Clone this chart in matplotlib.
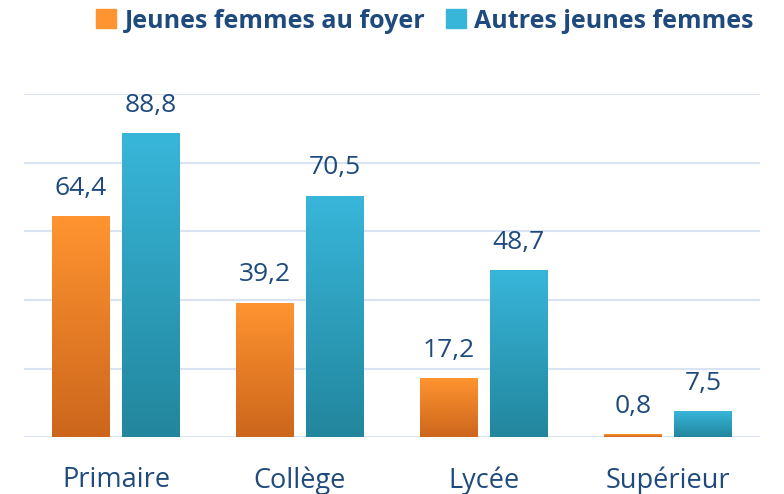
import numpy as np
import matplotlib
matplotlib.use("Agg")
import matplotlib.pyplot as plt
import matplotlib.patches as mpatches
from matplotlib.colors import LinearSegmentedColormap

# ── data ─────────────────────────────────────
categories = ["Primaire", "Collège", "Lycée", "Supérieur"]
foyer      = [64.4, 39.2, 17.2, 0.8]
autres     = [88.8, 70.5, 48.7, 7.5]
series     = ["Jeunes femmes au foyer", "Autres jeunes femmes"]

TEXT   = "#1F4A7E"
GRID   = "#D9E3F1"
ORANGE = ("#FF9430", "#CC661C")   # top, bottom
TEAL   = ("#38B6DA", "#22869D")

plt.rcParams["font.family"] = ["Open Sans", "DejaVu Sans"]

fig = plt.figure(figsize=(7.84, 4.94), dpi=100)
ax = fig.add_axes([24 / 784, 57 / 494, 736 / 784, 342.5 / 494])

x = np.arange(len(categories))
w = 0.315
off = 0.19


def gradient_bars(bars, colors):
    cmap = LinearSegmentedColormap.from_list("g", [colors[1], colors[0]])
    grad = np.linspace(0, 1, 256).reshape(-1, 1)
    for b in bars:
        x0, y0 = b.get_x(), b.get_y()
        im = ax.imshow(grad, cmap=cmap, aspect="auto", origin="lower",
                       extent=[x0, x0 + b.get_width(), y0, y0 + b.get_height()],
                       zorder=3)
        im.set_clip_path(b)
        b.set_facecolor("none")


b1 = ax.bar(x - off, foyer, w, color=ORANGE[0], linewidth=0, zorder=3)
b2 = ax.bar(x + off, autres, w, color=TEAL[0], linewidth=0, zorder=3)
gradient_bars(b1, ORANGE)
gradient_bars(b2, TEAL)

for bars, vals in ((b1, foyer), (b2, autres)):
    for b, v in zip(bars, vals):
        ax.annotate(f"{v:.1f}".replace(".", ","),
                    (b.get_x() + b.get_width() / 2, v),
                    xytext=(0, 11), textcoords="offset points",
                    ha="center", va="bottom", fontsize=19, color=TEXT)

ax.set_xlim(-0.5, 3.5)
ax.set_ylim(0, 100)
ax.set_yticks(np.arange(0, 101, 20))
ax.set_yticklabels([])
ax.grid(axis="y", color=GRID, linewidth=1.5, zorder=0)
ax.tick_params(length=0)
ax.set_xticks(x)
ax.set_xticklabels(categories, fontsize=19.5, color=TEXT)
ax.tick_params(axis="x", pad=21)
for s in ax.spines.values():
    s.set_visible(False)

handles = [mpatches.Patch(color=ORANGE[0]), mpatches.Patch(color=TEAL[0])]
fig.legend(handles, series, loc="center", bbox_to_anchor=(425 / 784, 1 - 21 / 494),
           ncol=2, frameon=False, handlelength=0.8, handleheight=0.8,
           handletextpad=0.35, columnspacing=0.8,
           prop={"size": 18, "weight": "bold"}, labelcolor=TEXT)

fig.savefig("out.png", dpi=100)
